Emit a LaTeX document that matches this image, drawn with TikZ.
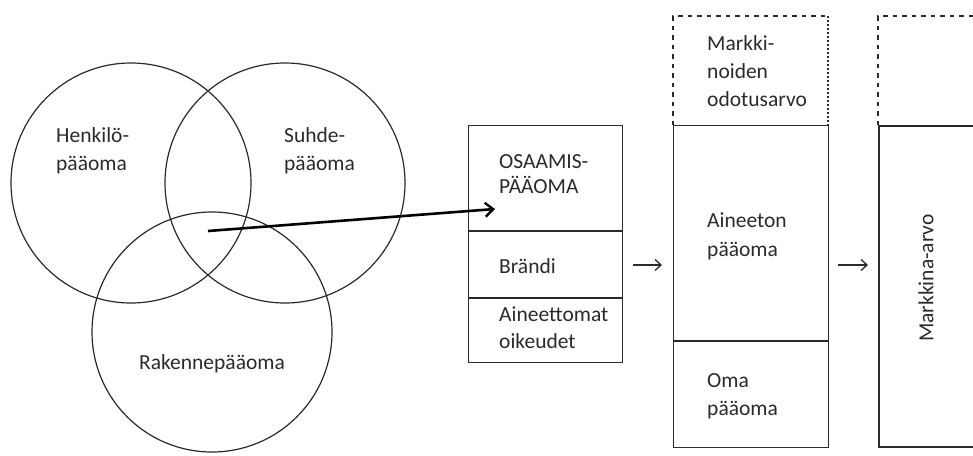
\documentclass[tikz,border=0pt]{standalone}
\usepackage{fontspec}
\setmainfont{Carlito}
\usetikzlibrary{arrows.meta}
\definecolor{ink}{HTML}{2A2A2A}
\tikzset{
  venn/.style={circle, draw=ink, line width=1.2pt, minimum size=240pt, inner sep=0pt},
  box/.style={draw=ink, line width=1.4pt},
  bigbox/.style={draw=ink, line width=2pt},
  lbl/.style={anchor=base west, inner sep=0pt, text=ink, font=\fontsize{21.5}{26}\selectfont},
  flow/.style={draw=ink, line width=1.2pt, -{Straight Barb[length=6pt, width=11pt, line width=1.3pt]}},
  mainarrow/.style={draw=black, line width=2.6pt, -{Straight Barb[length=8pt, width=14pt, line width=2.4pt]}},
  dashside/.style={draw=ink, line width=1.5pt, dash pattern=on 4.5pt off 5pt},
  dotside/.style={draw=ink, line width=1.3pt, dash pattern=on 2pt off 2pt}
}
\begin{document}
\begin{tikzpicture}[x=1pt, y=-1pt]
\useasboundingbox (0,0) rectangle (973,455);
% Venn circles
\node[venn] (c1) at (131,183) {};
\node[venn] (c2) at (285,183) {};
\node[venn] (c3) at (212,332) {};
\node[lbl] (t1a) at (56,142) {Henkilö-};
\node[lbl] (t1b) at (56,170) {pääoma};
\node[lbl] (t2a) at (284,142) {Suhde-};
\node[lbl] (t2b) at (284,170) {pääoma};
\node[lbl, anchor=base] (t3) at (212,369) {Rakennepääoma};
% box 1
\node[box, minimum width=154pt, minimum height=237pt, inner sep=0pt, anchor=north west] (b1) at (468,125) {};
\draw[box] (468,231) -- (622,231);
\draw[box] (468,298) -- (622,298);
\node[lbl] (o1) at (499,168) {OSAAMIS-};
\node[lbl] (o2) at (499,193) {PÄÄOMA};
\node[lbl] (br) at (499,273) {Brändi};
\node[lbl] (ai1) at (499,321) {Aineettomat};
\node[lbl] (ai2) at (499,348) {oikeudet};
% main arrow
\coordinate (vs) at (208,231);
\coordinate (ve) at (495,209);
\draw[mainarrow] (vs) -- (ve);
% box 2
\node[box, minimum width=155pt, minimum height=322pt, inner sep=0pt, anchor=north west] (b2) at (673,125) {};
\draw[box] (673,341) -- (828,341);
\draw[dashside] (673,125) -- (673,16) -- (828,16);
\draw[dotside] (828,16) -- (828,125);
\node[lbl] (m1) at (707,50) {Markki-};
\node[lbl] (m2) at (707,78) {noiden};
\node[lbl] (m3) at (707,106) {odotusarvo};
\node[lbl] (ae1) at (707,227) {Aineeton};
\node[lbl] (ae2) at (707,256) {pääoma};
\node[lbl] (om1) at (707,387) {Oma};
\node[lbl] (om2) at (707,415) {pääoma};
% box 3
\node[bigbox, minimum width=110pt, minimum height=321pt, inner sep=0pt, anchor=north west] (b3) at (878,125) {};
\draw[dashside] (878,125) -- (878,16) -- (990,16);
\node[lbl, anchor=center, rotate=90] (mv) at (926,278) {Markkina-arvo};
% flow arrows
\coordinate (f1s) at (633,265);
\coordinate (f1e) at (662,265);
\coordinate (f2s) at (838,265);
\coordinate (f2e) at (868,265);
\draw[flow] (f1s) -- (f1e);
\draw[flow] (f2s) -- (f2e);
\end{tikzpicture}
\end{document}
